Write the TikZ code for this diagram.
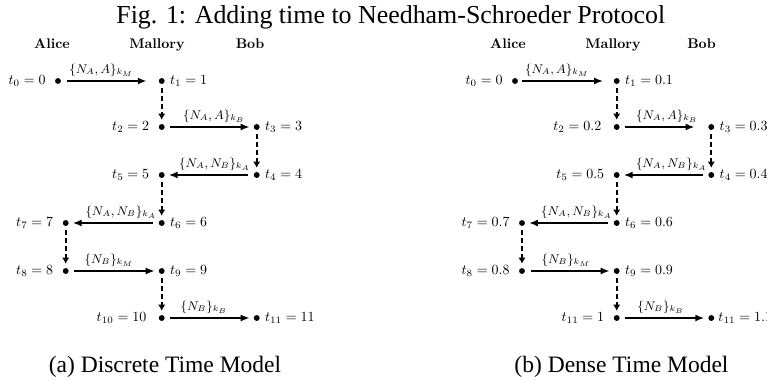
\documentclass[tikz,border=0pt]{standalone}
\usepackage{fontspec}
\newfontfamily\timesfont{Liberation Serif}
\usetikzlibrary{arrows.meta}
\begin{document}
\begin{tikzpicture}[x=0.7143pt,y=-0.7143pt,
  dot/.style={circle,fill=black,inner sep=0pt,minimum size=4.2pt},
  tlab/.style={inner sep=0pt,font=\normalsize},
  lt/.style={label={[tlab,label distance=6.4pt]left:$#1$}},
  rt/.style={label={[tlab,label distance=3.5pt]right:$#1$}},
  msg/.style={-{Latex[length=6.4pt,width=5pt]},line width=1.6pt,shorten <=3.9pt,shorten >=2.7pt},
  waitarr/.style={-{Latex[length=4.3pt,width=5.2pt]},line width=1.6pt,dash pattern=on 3.2pt off 2.5pt,shorten <=2.9pt,shorten >=2.9pt},
  mlab/.style={inner sep=0pt,anchor=base,font=\small},
  who/.style={inner sep=0pt,anchor=base,font=\normalsize\bfseries},
  subcap/.style={inner sep=0pt,anchor=base,font=\timesfont\fontsize{16.8}{19}\selectfont},
]
\useasboundingbox (0,0) rectangle (767,381);
% title
\node[inner sep=0pt,anchor=base,font=\timesfont\fontsize{18.5}{21}\selectfont] (title) at (390.8,23.3) {Fig. 1: Adding time to Needham-Schroeder Protocol};

% ---------- left diagram ----------
\node[who] (la) at (52,48.5) {Alice};
\node[who] (lm) at (157,48.5) {Mallory};
\node[who] (lb) at (250,48.5) {Bob};

\node[dot,lt={t_0 = 0}] (L0) at (58,81) {};
\node[dot,rt={t_1 = 1}] (L1) at (161.7,81) {};
\node[dot,lt={t_2 = 2}] (L2) at (161.7,127) {};
\node[dot,rt={t_3 = 3}] (L3) at (256.7,127) {};
\node[dot,rt={t_4 = 4}] (L4) at (256.7,175) {};
\node[dot,lt={t_5 = 5}] (L5) at (161.7,175) {};
\node[dot,rt={t_6 = 6}] (L6) at (161.7,223) {};
\node[dot,lt={t_7 = 7}] (L7) at (65.7,223) {};
\node[dot,lt={t_8 = 8}] (L8) at (65.7,271) {};
\node[dot,rt={t_9 = 9}] (L9) at (161.7,271) {};
\node[dot,label={[tlab,label distance=8.5pt]left:$t_{10} = 10$}] (L10) at (161.7,318) {};
\node[dot,rt={t_{11} = 11}] (L11) at (256.7,318) {};

\draw[msg,shorten <=4.3pt,shorten >=8.4pt] (L0) -- (L1);
\draw[waitarr] (L1) -- (L2);
\draw[msg] (L2) -- (L3);
\draw[waitarr] (L3) -- (L4);
\draw[msg] (L4) -- (L5);
\draw[waitarr] (L5) -- (L6);
\draw[msg] (L6) -- (L7);
\draw[waitarr] (L7) -- (L8);
\draw[msg] (L8) -- (L9);
\draw[waitarr] (L9) -- (L10);
\draw[msg] (L10) -- (L11);

\node[mlab] (lm1) at (101.3,73.5) {$\{N_A, A\}_{k_M}$};
\node[mlab] (lm2) at (214,119.5) {$\{N_A, A\}_{k_B}$};
\node[mlab] (lm3) at (214.7,167.5) {$\{N_A, N_B\}_{k_A}$};
\node[mlab] (lm4) at (121,215.5) {$\{N_A, N_B\}_{k_A}$};
\node[mlab] (lm5) at (109,263.5) {$\{N_B\}_{k_M}$};
\node[mlab] (lm6) at (204,310.5) {$\{N_B\}_{k_B}$};

\node[subcap] (capa) at (165,372.5) {(a) Discrete Time Model};

% ---------- right diagram ----------
\node[who] (ra) at (508,48.5) {Alice};
\node[who] (rm) at (613,48.5) {Mallory};
\node[who] (rb) at (701.5,48.5) {Bob};

\node[dot,lt={t_0 = 0}] (R0) at (515,81) {};
\node[dot,rt={t_1 = 0.1}] (R1) at (616.7,81) {};
\node[dot,label={[tlab,label distance=8.5pt]left:$t_2 = 0.2$}] (R2) at (616.7,127) {};
\node[dot,rt={t_3 = 0.3}] (R3) at (711.3,127) {};
\node[dot,rt={t_4 = 0.4}] (R4) at (711.3,175) {};
\node[dot,lt={t_5 = 0.5}] (R5) at (616.7,175) {};
\node[dot,rt={t_6 = 0.6}] (R6) at (616.7,223) {};
\node[dot,lt={t_7 = 0.7}] (R7) at (522,223) {};
\node[dot,lt={t_8 = 0.8}] (R8) at (522,271) {};
\node[dot,rt={t_9 = 0.9}] (R9) at (616.7,271) {};
\node[dot,lt={t_{11} = 1}] (R10) at (616.7,318) {};
\node[dot,label={[tlab,label distance=2.6pt]right:$t_{11} = 1.1$}] (R11) at (711.3,318) {};

\draw[msg,shorten <=2.7pt,shorten >=7.4pt] (R0) -- (R1);
\draw[waitarr] (R1) -- (R2);
\draw[msg,shorten >=9.7pt] (R2) -- (R3);
\draw[waitarr] (R3) -- (R4);
\draw[msg] (R4) -- (R5);
\draw[waitarr] (R5) -- (R6);
\draw[msg] (R6) -- (R7);
\draw[waitarr] (R7) -- (R8);
\draw[msg] (R8) -- (R9);
\draw[waitarr] (R9) -- (R10);
\draw[msg] (R10) -- (R11);

\node[mlab] (rm1) at (557,73.5) {$\{N_A, A\}_{k_M}$};
\node[mlab] (rm2) at (667,119.5) {$\{N_A, A\}_{k_B}$};
\node[mlab] (rm3) at (671.5,167.5) {$\{N_A, N_B\}_{k_A}$};
\node[mlab] (rm4) at (576.7,215.5) {$\{N_A, N_B\}_{k_A}$};
\node[mlab] (rm5) at (566,263.5) {$\{N_B\}_{k_M}$};
\node[mlab] (rm6) at (660.7,310.5) {$\{N_B\}_{k_B}$};

\node[subcap] (capb) at (621.5,372.5) {(b) Dense Time Model};
\end{tikzpicture}
\end{document}
